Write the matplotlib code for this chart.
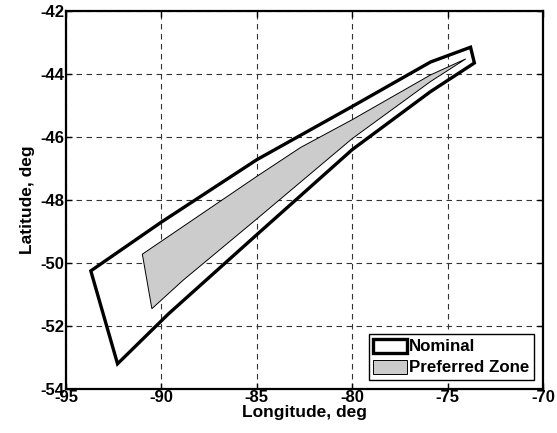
import matplotlib
matplotlib.use("Agg")
import matplotlib.pyplot as plt

# Nominal landing footprint (closed outline: upper edge left->right, lower edge right->left)
nominal_lon = [-93.7, -90.0, -85.0, -80.0, -75.9, -73.8, -73.6,
               -75.9, -80.0, -85.0, -89.64, -92.3]
nominal_lat = [-50.25, -48.70, -46.72, -45.03, -43.62, -43.15, -43.65,
               -44.56, -46.40, -49.10, -51.62, -53.20]

# Preferred zone inside the nominal footprint
pref_lon = [-91.0, -85.0, -82.7, -80.0, -75.9, -74.05,
            -75.9, -80.0, -85.0, -88.85, -90.5]
pref_lat = [-49.72, -47.25, -46.33, -45.45, -44.03, -43.52,
            -44.24, -46.05, -48.60, -50.54, -51.45]

plt.rcParams["font.family"] = ["Liberation Sans", "DejaVu Sans"]
plt.rcParams["font.weight"] = "bold"
plt.rcParams["axes.unicode_minus"] = False

fig = plt.figure(figsize=(5.57, 4.33), dpi=100)
ax = fig.add_axes([0.1185, 0.1016, 0.8565, 0.873])

ax.fill(pref_lon, pref_lat, facecolor="#cccccc", edgecolor="k", linewidth=0.7,
        label="Preferred Zone", zorder=3)
ax.fill(nominal_lon, nominal_lat, facecolor="none", edgecolor="k", linewidth=2.4,
        joinstyle="miter", label="Nominal", zorder=4)

ax.set_xlim(-95, -70)
ax.set_ylim(-54, -42)
ax.set_xticks(range(-95, -69, 5))
ax.set_yticks(range(-54, -41, 2))
ax.grid(True, linestyle=(0, (5, 4)), color="#333333", linewidth=0.8)
ax.tick_params(direction="in", length=4, width=1, labelsize=12,
               top=True, right=True, pad=1)
for lbl in ax.get_xticklabels() + ax.get_yticklabels():
    lbl.set_fontweight("bold")
for s in ax.spines.values():
    s.set_linewidth(1.6)

ax.set_xlabel("Longitude, deg", fontsize=12.5, fontweight="bold", labelpad=0)
ax.set_ylabel("Latitude, deg", fontsize=12.5, fontweight="bold", labelpad=4)

handles, labels = ax.get_legend_handles_labels()
leg = ax.legend(handles[::-1], labels[::-1], loc="lower right",
                fontsize=12.2, handlelength=2.0, handleheight=0.9,
                handletextpad=0.15, borderpad=0.25, labelspacing=0.3,
                fancybox=False, framealpha=1, edgecolor="k",
                borderaxespad=0.55)
leg.get_frame().set_linewidth(1.0)
for t in leg.get_texts():
    t.set_fontweight("bold")

fig.savefig("out.png", dpi=100)
